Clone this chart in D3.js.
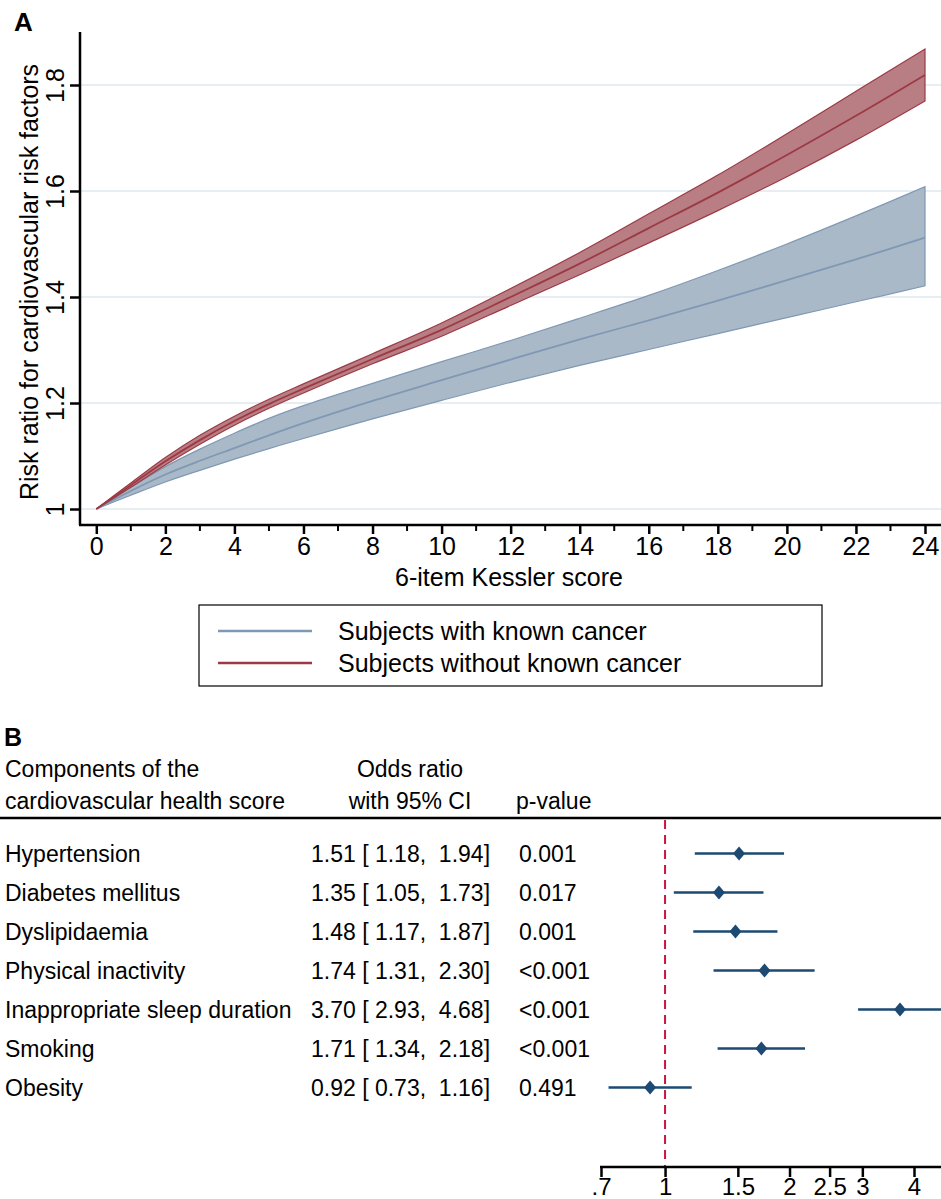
<!DOCTYPE html>
<html>
<head>
<meta charset="utf-8">
<script src="https://cdn.jsdelivr.net/npm/d3@7"></script>
<style>
  body { margin: 0; background: #fff; }
  svg text { font-family: "Liberation Sans", Arial, sans-serif; fill: #000; }
</style>
</head>
<body>
<div id="chart"></div>
<script>
// panel A data
var kessler = [0, 1, 2, 3, 4, 5, 6, 8, 10, 12, 14, 16, 18, 20, 22, 24];
var noCancerMean = [1.0, 1.045, 1.090, 1.130, 1.166, 1.198, 1.227, 1.283, 1.338, 1.400, 1.463, 1.530, 1.597, 1.668, 1.742, 1.819];
var noCancerLow  = [1.0, 1.041, 1.083, 1.122, 1.158, 1.190, 1.219, 1.274, 1.326, 1.384, 1.442, 1.502, 1.563, 1.627, 1.696, 1.770];
var noCancerHigh = [1.0, 1.049, 1.097, 1.139, 1.175, 1.207, 1.236, 1.293, 1.351, 1.416, 1.484, 1.557, 1.630, 1.708, 1.788, 1.868];
var cancerMean = [1.0, 1.034, 1.065, 1.091, 1.115, 1.139, 1.162, 1.204, 1.243, 1.282, 1.320, 1.356, 1.393, 1.432, 1.471, 1.512];
var cancerLow  = [1.0, 1.026, 1.051, 1.073, 1.094, 1.114, 1.133, 1.170, 1.205, 1.239, 1.271, 1.301, 1.331, 1.361, 1.391, 1.421];
var cancerHigh = [1.0, 1.041, 1.080, 1.113, 1.143, 1.171, 1.195, 1.237, 1.278, 1.318, 1.360, 1.403, 1.450, 1.500, 1.553, 1.608];
var xTicks = [0, 2, 4, 6, 8, 10, 12, 14, 16, 18, 20, 22, 24];
var yTicks = [1, 1.2, 1.4, 1.6, 1.8];
var legendLabels = ["Subjects with known cancer", "Subjects without known cancer"];

// panel B data
var components = ["Hypertension", "Diabetes mellitus", "Dyslipidaemia", "Physical inactivity",
  "Inappropriate sleep duration", "Smoking", "Obesity"];
var oddsRatio = [1.51, 1.35, 1.48, 1.74, 3.70, 1.71, 0.92];
var ciLow = [1.18, 1.05, 1.17, 1.31, 2.93, 1.34, 0.73];
var ciHigh = [1.94, 1.73, 1.87, 2.30, 4.68, 2.18, 1.16];
var pValues = ["0.001", "0.017", "0.001", "<0.001", "<0.001", "<0.001", "0.491"];
var orTicks = [0.7, 1, 1.5, 2, 2.5, 3, 4];
var orTickLabels = [".7", "1", "1.5", "2", "2.5", "3", "4"];

var blueLine = "#7f98b3", blueFill = "#a9b9c8";
var redLine = "#9b3a44", redFill = "#b5777d";
var gridC = "#e6eef1";
var forestC = "#1d4a73", refC = "#c8163f";
var fontA = "25px", fontB = "23px";

var svg = d3.select("#chart")
    .append("svg")
    .attr("width", 941)
    .attr("height", 1199);

// ---------- Panel A ----------
var x = d3.scaleLinear().domain([0, 24]).range([96.3, 925]);
var y = d3.scaleLinear().domain([1, 1.8]).range([509, 85]);

svg.append("text")
    .attr("x", 14).attr("y", 31)
    .attr("font-size", "26px").attr("font-weight", "bold")
    .text("A");

// grid lines
svg.append("g").selectAll("line")
    .data(yTicks)
    .enter().append("line")
    .attr("x1", 81).attr("x2", 941)
    .attr("y1", d => y(d)).attr("y2", d => y(d))
    .attr("stroke", gridC).attr("stroke-width", 2);

var pts = kessler.map((k, i) => ({
    k: k,
    cm: cancerMean[i], cl: cancerLow[i], ch: cancerHigh[i],
    nm: noCancerMean[i], nl: noCancerLow[i], nh: noCancerHigh[i]
}));

function band(lo, hi) {
    return d3.area()
        .x(d => x(d.k))
        .y0(d => y(d[lo]))
        .y1(d => y(d[hi]))
        .curve(d3.curveCatmullRom);
}
function mid(key) {
    return d3.line()
        .x(d => x(d.k))
        .y(d => y(d[key]))
        .curve(d3.curveCatmullRom);
}

// blue band (with cancer)
svg.append("path").datum(pts)
    .attr("d", band("cl", "ch"))
    .attr("fill", blueFill).attr("stroke", blueLine).attr("stroke-width", 1.2);
svg.append("path").datum(pts)
    .attr("d", mid("cm"))
    .attr("fill", "none").attr("stroke", blueLine).attr("stroke-width", 1.8);

// red band (without cancer)
svg.append("path").datum(pts)
    .attr("d", band("nl", "nh"))
    .attr("fill", redFill).attr("fill-opacity", 0.95)
    .attr("stroke", redLine).attr("stroke-width", 1.2);
svg.append("path").datum(pts)
    .attr("d", mid("nm"))
    .attr("fill", "none").attr("stroke", redLine).attr("stroke-width", 1.8);

// y axis
var yAxis = svg.append("g")
    .attr("transform", "translate(80,0)")
    .call(d3.axisLeft(y).tickValues(yTicks).tickSize(10).tickFormat(d3.format("")));
yAxis.select(".domain").attr("d", "M0,32V525").attr("stroke-width", 2.5);
yAxis.selectAll(".tick line").attr("stroke-width", 2.5);
yAxis.selectAll(".tick text")
    .attr("font-size", fontA)
    .attr("x", 0).attr("dy", 0)
    .attr("text-anchor", "middle")
    .attr("transform", "translate(-16,0) rotate(-90)")
    .attr("font-family", "Liberation Sans, Arial, sans-serif");

svg.append("text")
    .attr("transform", "translate(38,282) rotate(-90)")
    .attr("text-anchor", "middle")
    .attr("font-size", fontA)
    .text("Risk ratio for cardiovascular risk factors");

// x axis
var xAxis = svg.append("g")
    .attr("transform", "translate(0,525)")
    .call(d3.axisBottom(x).tickValues(xTicks).tickSize(9).tickFormat(d3.format("d")));
xAxis.select(".domain").attr("d", "M79,0H941").attr("stroke-width", 2.5);
xAxis.selectAll(".tick line").attr("stroke-width", 2.5);
xAxis.selectAll(".tick text")
    .attr("font-size", fontA).attr("y", 12)
    .attr("font-family", "Liberation Sans, Arial, sans-serif");
// minor ticks at odd scores
svg.append("g").selectAll("line")
    .data(d3.range(1, 24, 2))
    .enter().append("line")
    .attr("x1", d => x(d)).attr("x2", d => x(d))
    .attr("y1", 525).attr("y2", 531)
    .attr("stroke", "#000").attr("stroke-width", 2);

svg.append("text")
    .attr("x", 509).attr("y", 586)
    .attr("text-anchor", "middle")
    .attr("font-size", fontA)
    .text("6-item Kessler score");

// legend
svg.append("rect")
    .attr("x", 199).attr("y", 605)
    .attr("width", 623).attr("height", 81)
    .attr("fill", "#fff").attr("stroke", "#000").attr("stroke-width", 1.2);
var legColors = [blueLine, redLine];
legendLabels.forEach(function (lab, i) {
    var ly = 631 + i * 32;
    svg.append("line")
        .attr("x1", 218).attr("x2", 312)
        .attr("y1", ly).attr("y2", ly)
        .attr("stroke", legColors[i]).attr("stroke-width", 2.5);
    svg.append("text")
        .attr("x", 338).attr("y", ly + 9)
        .attr("font-size", fontA)
        .text(lab);
});

// ---------- Panel B ----------
svg.append("text")
    .attr("x", 4).attr("y", 746)
    .attr("font-size", "25px").attr("font-weight", "bold")
    .text("B");

var hdr = svg.append("g").attr("font-size", fontB);
hdr.append("text").attr("x", 5).attr("y", 777).text("Components of the");
hdr.append("text").attr("x", 5).attr("y", 809).text("cardiovascular health score");
hdr.append("text").attr("x", 410).attr("y", 777).attr("text-anchor", "middle").text("Odds ratio");
hdr.append("text").attr("x", 410).attr("y", 809).attr("text-anchor", "middle").text("with 95% CI");
hdr.append("text").attr("x", 516).attr("y", 809).text("p-value");

svg.append("line")
    .attr("x1", 0).attr("x2", 941)
    .attr("y1", 818).attr("y2", 818)
    .attr("stroke", "#000").attr("stroke-width", 2.5);

var row = d3.scaleBand().domain(components).range([834, 1107]);
var fx = d3.scaleLog().domain([0.7, 4]).range([601, 914]);

var f2 = d3.format(".2f");
components.forEach(function (c, i) {
    var ry = row(c) + row.bandwidth() / 2;
    svg.append("text").attr("x", 5).attr("y", ry + 8)
        .attr("font-size", fontB).text(c);
    svg.append("text").attr("x", 311).attr("y", ry + 8)
        .attr("font-size", fontB).attr("xml:space", "preserve")
        .text(f2(oddsRatio[i]) + " [ " + f2(ciLow[i]) + ",  " + f2(ciHigh[i]) + "]");
    svg.append("text").attr("x", 519).attr("y", ry + 8)
        .attr("font-size", fontB).text(pValues[i]);
});

// reference line at 1
svg.append("line")
    .attr("x1", fx(1)).attr("x2", fx(1))
    .attr("y1", 820).attr("y2", 1167)
    .attr("stroke", refC).attr("stroke-width", 2)
    .attr("stroke-dasharray", "9,6");

var marks = svg.append("g");
components.forEach(function (c, i) {
    var ry = row(c) + row.bandwidth() / 2;
    marks.append("line")
        .attr("x1", fx(ciLow[i])).attr("x2", Math.min(fx(ciHigh[i]), 941))
        .attr("y1", ry).attr("y2", ry)
        .attr("stroke", forestC).attr("stroke-width", 2.5);
    var cx = fx(oddsRatio[i]);
    marks.append("path")
        .attr("d", "M" + cx + "," + (ry - 7) + "L" + (cx + 6) + "," + ry +
            "L" + cx + "," + (ry + 7) + "L" + (cx - 6) + "," + ry + "Z")
        .attr("fill", forestC);
});

// forest axis
var fAxis = svg.append("g")
    .attr("transform", "translate(0,1167)")
    .call(d3.axisBottom(fx).tickValues(orTicks).tickSize(10)
        .tickFormat((d, i) => orTickLabels[i]));
fAxis.select(".domain").attr("d", "M600,0H941").attr("stroke-width", 2.5);
fAxis.selectAll(".tick line").attr("stroke-width", 2.5);
fAxis.selectAll(".tick text")
    .attr("font-size", "24px").attr("y", 11)
    .attr("font-family", "Liberation Sans, Arial, sans-serif");
</script>
</body>
</html>
